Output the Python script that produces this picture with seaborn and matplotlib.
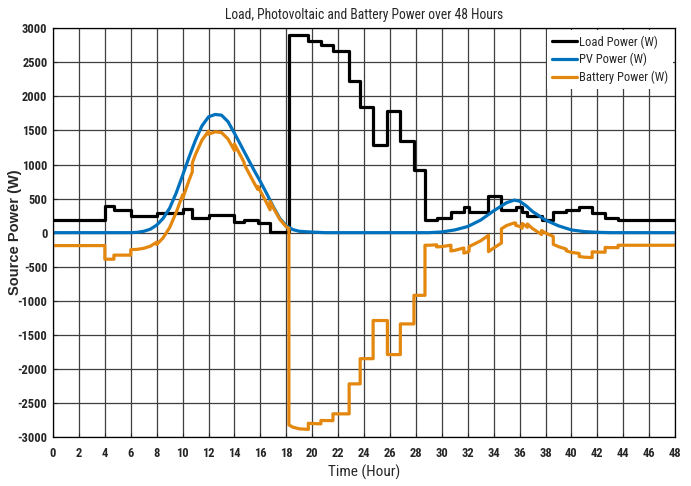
import numpy as np
import pandas as pd
import matplotlib
matplotlib.use('Agg')
import matplotlib.pyplot as plt
import seaborn as sns

# ---------------------------
# Data
# ---------------------------
# load power: step starts (hour) and value held until the next start
load_hours = [0, 4, 4.7, 6, 8, 10, 10.75, 12, 14, 14.75, 15.8, 16.75,
              18.2, 19.7, 20.67, 21.6, 22.85, 23.7, 24.7, 25.8, 26.8, 27.85,
              28.7, 29.6, 30.7, 31.7, 32.1, 33.6, 34.6, 35.7, 36.2, 36.6,
              37.7, 38.6, 39.6, 40.6, 41.6, 42.6, 43.6, 48]
load_w = [190, 390, 330, 250, 285, 340, 210, 255, 160, 185, 140, 15,
          2900, 2810, 2760, 2660, 2220, 1850, 1290, 1790, 1340, 920,
          185, 215, 300, 375, 305, 545, 335, 370, 300, 250,
          190, 305, 330, 375, 290, 220, 185, 185]

# PV power
pv_hours = [0, 6, 6.5, 7, 7.5, 8, 8.5, 9, 9.5, 10, 10.5, 11, 11.5, 12, 12.5,
            13, 13.5, 14, 14.5, 15, 15.5, 16, 16.5, 17, 17.5, 18, 18.5, 19,
            20, 21, 29, 30, 31, 32, 33, 34, 35, 35.6, 36, 36.5, 37, 38, 39,
            40, 41, 42, 43, 48]
pv_w = [0, 0, 5, 20, 50, 110, 210, 360, 580, 840, 1110, 1360, 1570, 1700, 1735,
        1725, 1630, 1460, 1280, 1100, 920, 750, 570, 380, 210, 100, 45, 20,
        8, 0, 0, 10, 40, 90, 185, 320, 440, 478, 462, 395, 310, 185, 100,
        40, 15, 5, 0, 0]

# battery power (repeated hours are the vertical jumps)
bat_hours = [0, 4, 4, 4.7, 4.7, 6, 6, 6.5, 7, 7.5, 8, 8, 8.5, 9, 9.5, 10, 10,
             10.5, 10.75, 10.75, 11, 11.5, 12, 12, 12.5, 13, 13.5, 14, 14,
             14.5, 14.75, 14.75, 15, 15.5, 15.8, 15.8, 16, 16.5, 16.75, 16.75,
             17, 17.5, 18, 18.2, 18.2, 18.5, 19, 19.7, 19.7, 20, 20.67, 20.67,
             21.6, 21.6, 22.85, 22.85, 23.7, 23.7, 24.7, 24.7, 25.8, 25.8,
             26.8, 26.8, 27.85, 27.85, 28.7, 28.7, 29, 29.6, 29.6, 30, 30.7,
             30.7, 31, 31.7, 31.7, 32, 32.1, 32.1, 33, 33.6, 33.6, 34, 34.6,
             34.6, 35, 35.6, 35.7, 35.7, 36, 36.2, 36.2, 36.5, 36.6, 36.6, 37,
             37.7, 37.7, 38, 38.6, 38.6, 39, 39.6, 39.6, 40, 40.6, 40.6, 41,
             41.6, 41.6, 42, 42.6, 42.6, 43, 43.6, 43.6, 48]
bat_w = [-190, -190, -390, -390, -330, -330, -250, -245, -230, -200, -140, -175,
         -75, 75, 295, 555, 500, 770, 895, 1025, 1150, 1360, 1490, 1445, 1480,
         1470, 1375, 1205, 1300, 1120, 1030, 1005, 915, 735, 635, 680, 610,
         430, 335, 460, 365, 195, 85, 63, -2822, -2855, -2880, -2888, -2798,
         -2802, -2807, -2757, -2760, -2660, -2660, -2220, -2220, -1850, -1850,
         -1290, -1290, -1790, -1790, -1340, -1340, -920, -920, -185, -185, -179,
         -209, -205, -184, -269, -260, -225, -300, -285, -275, -205, -120, -39,
         -279, -225, -153, 57, 105, 143, 141, 106, 92, 65, 135, 95, 78, 128,
         60, -28, 32, -5, -56, -171, -205, -241, -266, -290, -305, -350, -360,
         -366, -281, -285, -287, -217, -220, -220, -185, -185]

load_df = pd.DataFrame({'Hour': load_hours, 'Power': load_w})
pv_df = pd.DataFrame({'Hour': pv_hours, 'Power': pv_w})
bat_df = pd.DataFrame({'Hour': bat_hours, 'Power': bat_w})

# ---------------------------
# Style
# ---------------------------
sns.set_style('ticks')
narrow = ['Roboto Condensed', 'PT Sans Narrow', 'Archivo Narrow', 'DejaVu Sans']
plt.rcParams['font.family'] = narrow
plt.rcParams['axes.unicode_minus'] = False

fig = plt.figure(figsize=(6.91, 4.86), dpi=100)
ax = fig.add_axes([0.0767, 0.1008, 0.9003, 0.841])

lw = 2.3
sns.lineplot(data=load_df, x='Hour', y='Power', ax=ax, color='black', lw=lw,
             drawstyle='steps-post', estimator=None, sort=False,
             label='Load Power (W)')
sns.lineplot(data=pv_df, x='Hour', y='Power', ax=ax, color='#0072BD', lw=lw,
             estimator=None, sort=False, label='PV Power (W)')
sns.lineplot(data=bat_df, x='Hour', y='Power', ax=ax, color='#E3870E', lw=lw,
             estimator=None, sort=False, label='Battery Power (W)')

ax.set_xlim(0, 48)
ax.set_ylim(-3000, 3000)
ax.set_xticks(range(0, 49, 2))
ax.set_yticks(range(-3000, 3001, 500))
ax.grid(True, color='#3f3f3f', lw=0.9)
ax.set_axisbelow(True)
ax.tick_params(direction='in', length=3, width=0.8, labelsize=9)
ax.tick_params(axis='x', pad=7)
ax.tick_params(axis='y', pad=4)
for lab in ax.get_xticklabels() + ax.get_yticklabels():
    lab.set_fontweight('bold')
for sp in ax.spines.values():
    sp.set_color('black')
    sp.set_linewidth(0.9)

ax.set_title('Load, Photovoltaic and Battery Power over 48 Hours',
             fontsize=9.8, pad=7)
ax.set_xlabel('Time (Hour)', fontsize=11)
ax.xaxis.set_label_coords(0.5, -0.068)
ax.set_ylabel('Source Power (W)', fontsize=10.5, fontweight='bold',
              family=['Liberation Sans', 'DejaVu Sans'])
ax.yaxis.set_label_coords(-0.05, 0.5)

leg = ax.legend(loc='upper right', fontsize=9, frameon=True, fancybox=False,
                edgecolor='white', framealpha=1, handlelength=2.0,
                borderaxespad=0.15, labelspacing=0.35, handletextpad=0.2)
leg.get_frame().set_linewidth(0)

plt.savefig('out.png', dpi=100)
